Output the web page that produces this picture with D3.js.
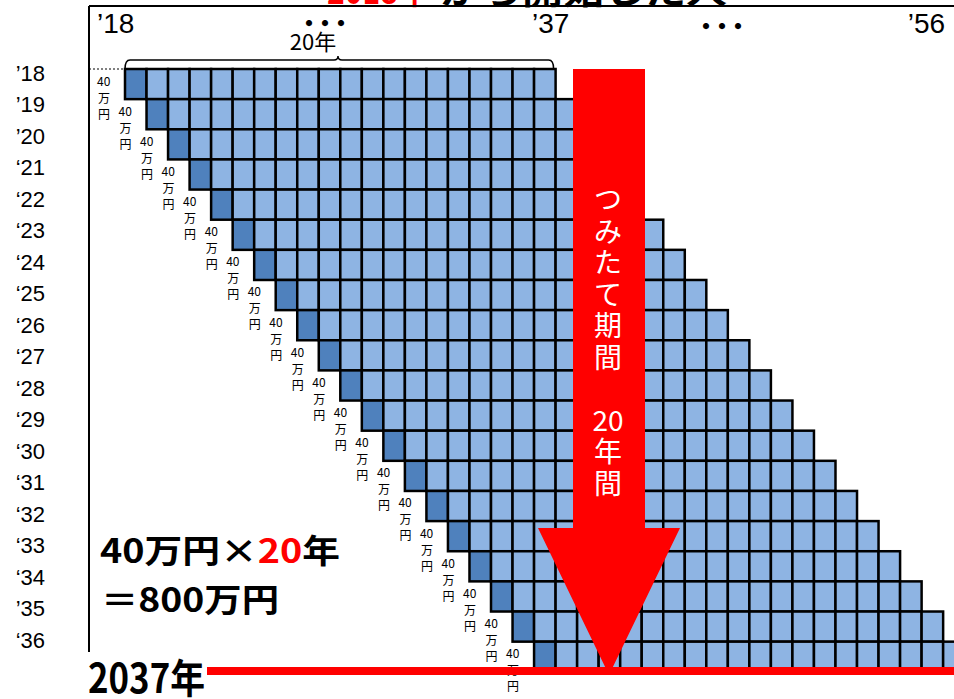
<!DOCTYPE html>
<html>
<head>
<meta charset="utf-8">
<script src="https://cdn.jsdelivr.net/npm/d3@7"></script>
<style>
  body { margin: 0; background: #fff; }
  svg { display: block; }
</style>
</head>
<body>
<div id="chart"></div>
<script>
// cohorts: the year each person starts つみたて (one row each)
const startYears = [2018, 2019, 2020, 2021, 2022, 2023, 2024, 2025, 2026, 2027,
  2028, 2029, 2030, 2031, 2032, 2033, 2034, 2035, 2036, 2037];
// calendar years across the top ('18 ... '56)
const colYears = [2018, 2019, 2020, 2021, 2022, 2023, 2024, 2025, 2026, 2027,
  2028, 2029, 2030, 2031, 2032, 2033, 2034, 2035, 2036, 2037, 2038, 2039, 2040,
  2041, 2042, 2043, 2044, 2045, 2046, 2047, 2048, 2049, 2050, 2051, 2052, 2053,
  2054, 2055, 2056];
// row tick labels (quote marks as in the original)
const rowLabels = ["’18", "’19", "’20", "‘21", "‘22", "‘23", "‘24", "‘25", "‘26",
  "‘27", "‘28", "‘29", "‘30", "‘31", "‘32", "‘33", "‘34", "’35", "‘36"];
// column tick labels
const topLabels = [
  { year: 2018, text: "’18" },
  { year: 2037, text: "’37" },
  { year: 2056, text: "’56" },
];
const annualAmount = 40; // 万円 per year
const termYears = 20; // years of holding per cohort

function drawChart(id) {
  const w = 954;
  const h = 699;
  const jp = "'Noto Sans CJK JP', sans-serif";
  const latin = "'Liberation Sans', Arial, sans-serif";

  const svg = d3
    .select(`#${id}`)
    .append("svg")
    .attr("width", w)
    .attr("height", h)
    .attr("viewBox", [0, 0, w, h]);

  // scales for the cell grid
  const colW = 21.53;
  const rowH = 30.14;
  const x = d3
    .scaleBand()
    .domain(colYears)
    .range([125, 125 + colYears.length * colW]);
  const y = d3
    .scaleBand()
    .domain(startYears)
    .range([69, 69 + startYears.length * rowH]);
  const yLabel = d3.scalePoint().domain(rowLabels).range([73, 640]);

  // title, cut off at the top
  svg.append("text")
    .attr("x", 327).attr("y", 4)
    .attr("textLength", 101).attr("lengthAdjust", "spacingAndGlyphs")
    .attr("font-family", jp).attr("font-weight", 700).attr("font-size", 36)
    .attr("fill", "#ff0000")
    .text("2018年");
  svg.append("text")
    .attr("x", 440).attr("y", 4)
    .attr("textLength", 287).attr("lengthAdjust", "spacingAndGlyphs")
    .attr("font-family", jp).attr("font-weight", 700).attr("font-size", 36)
    .attr("fill", "#000")
    .text("から開始した人");

  // frame lines
  svg.append("line")
    .attr("x1", 89).attr("x2", w).attr("y1", 6).attr("y2", 6)
    .attr("stroke", "#000").attr("stroke-width", 2);
  svg.append("line")
    .attr("x1", 89).attr("x2", 89).attr("y1", 6).attr("y2", 652)
    .attr("stroke", "#000").attr("stroke-width", 2);

  // top year labels
  svg.selectAll(".top-label")
    .data(topLabels)
    .enter()
    .append("text")
    .attr("class", "top-label")
    .attr("x", (d) => d.year === 2018 ? x(d.year) - 28 : d.year === 2056 ? x(d.year) + 2 : x(d.year) - 2)
    .attr("y", 33)
    .attr("text-anchor", (d) => (d.year === 2056 ? "end" : "start"))
    .attr("font-family", latin).attr("font-size", 28)
    .text((d) => d.text);

  // ellipsis dots
  [[322, 21], [719, 24]].forEach(([cx, cy]) => {
    svg.append("text")
      .attr("x", cx).attr("y", cy)
      .attr("text-anchor", "middle").attr("dominant-baseline", "central")
      .attr("font-family", jp).attr("font-weight", 900).attr("font-size", 22)
      .attr("letter-spacing", -6)
      .text("・・・");
  });

  // brace over the first 20 years
  const bx0 = x(startYears[0]);
  const bx1 = x(startYears[0] + termYears - 1) + x.bandwidth() - 2;
  const bmid = 338;
  svg.append("path")
    .attr("d", `M${bx0},69 Q${bx0},60 ${bx0 + 5},60 L${bmid - 4},60 Q${bmid},60 ${bmid},56 Q${bmid},60 ${bmid + 4},60 L${bx1 - 5},60 Q${bx1},60 ${bx1},69`)
    .attr("fill", "none").attr("stroke", "#000").attr("stroke-width", 1.5);
  svg.append("text")
    .attr("x", 313).attr("y", 50)
    .attr("text-anchor", "middle")
    .attr("font-family", jp).attr("font-size", 22)
    .text("20年");

  // dotted guide to the first row
  svg.append("line")
    .attr("x1", 89).attr("x2", bx0).attr("y1", 69).attr("y2", 69)
    .attr("stroke", "#000").attr("stroke-width", 1).attr("stroke-dasharray", "2,2");

  // row labels
  svg.selectAll(".row-label")
    .data(rowLabels)
    .enter()
    .append("text")
    .attr("class", "row-label")
    .attr("x", 45)
    .attr("y", (d) => yLabel(d))
    .attr("text-anchor", "end").attr("dominant-baseline", "central")
    .attr("font-family", latin).attr("font-size", 22)
    .text((d) => d);

  // cells: each cohort holds 20 yearly contributions
  const cells = [];
  startYears.forEach((s) => {
    for (let k = 0; k < termYears; k++) {
      cells.push({ start: s, year: s + k, first: k === 0 });
    }
  });
  svg.append("g")
    .selectAll("rect")
    .data(cells)
    .enter()
    .append("rect")
    .attr("x", (d) => x(d.year))
    .attr("y", (d) => y(d.start))
    .attr("width", x.bandwidth())
    .attr("height", y.bandwidth())
    .attr("fill", (d) => (d.first ? "#4f81bd" : "#8eb4e3"))
    .attr("stroke", "#000")
    .attr("stroke-width", 2.5);

  // 40万円 labels beside each first cell
  const amt = svg.append("g")
    .selectAll("text")
    .data(startYears)
    .enter()
    .append("text")
    .attr("font-family", jp).attr("font-size", 12)
    .attr("fill", "#000");
  amt.append("tspan")
    .attr("x", (d) => x(d) - 28)
    .attr("y", (d) => y(d) + 16.5)
    .text(annualAmount);
  amt.append("tspan")
    .attr("x", (d) => x(d) - 27)
    .attr("y", (d) => y(d) + 33.5)
    .text("万");
  amt.append("tspan")
    .attr("x", (d) => x(d) - 27)
    .attr("y", (d) => y(d) + 49.5)
    .text("円");

  // red arrow
  svg.append("path")
    .attr("d", "M573,69 L645,69 L645,528 L680,528 L609,675 L538,528 L573,528 Z")
    .attr("fill", "#ff0000");
  const arrowText = ["つ", "み", "た", "て", "期", "間", "", "20", "年", "間"];
  svg.selectAll(".arrow-text")
    .data(arrowText)
    .enter()
    .append("text")
    .attr("class", "arrow-text")
    .attr("x", 608)
    .attr("y", (d, i) => 198 + i * 31.5)
    .attr("text-anchor", "middle").attr("dominant-baseline", "central")
    .attr("font-family", jp).attr("font-size", 28)
    .attr("fill", "#fff")
    .text((d) => d);

  // total calculation
  const calc = svg.append("text")
    .attr("x", 100).attr("y", 563)
    .attr("textLength", 240).attr("lengthAdjust", "spacingAndGlyphs")
    .attr("font-family", jp).attr("font-weight", 700).attr("font-size", 33);
  calc.append("tspan").text(`${annualAmount}万円×`);
  calc.append("tspan").attr("fill", "#ff0000").text(termYears);
  calc.append("tspan").text("年");
  svg.append("text")
    .attr("x", 101).attr("y", 612)
    .attr("textLength", 178).attr("lengthAdjust", "spacingAndGlyphs")
    .attr("font-family", jp).attr("font-weight", 700).attr("font-size", 33)
    .text(`＝${annualAmount * termYears}万円`);

  // final year line
  svg.append("line")
    .attr("x1", 207).attr("x2", w).attr("y1", 671).attr("y2", 671)
    .attr("stroke", "#ff0000").attr("stroke-width", 8);
  svg.append("text")
    .attr("x", 88).attr("y", 693)
    .attr("textLength", 117).attr("lengthAdjust", "spacingAndGlyphs")
    .attr("font-family", jp).attr("font-weight", 700).attr("font-size", 40)
    .text("2037年");
}

document.addEventListener("DOMContentLoaded", function () {
  drawChart("chart");
});
</script>
</body>
</html>
